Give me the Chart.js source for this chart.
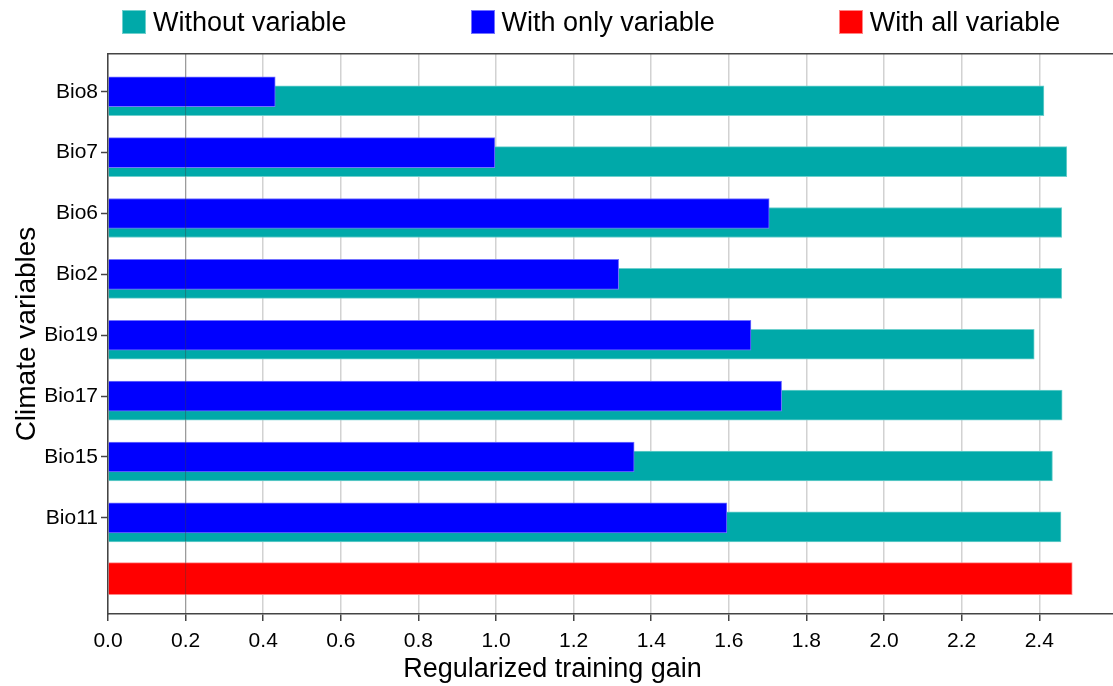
<!DOCTYPE html>
<html>
<head>
<meta charset="utf-8">
<script src="https://cdn.jsdelivr.net/npm/chart.js@4/dist/chart.umd.min.js"></script>
<style>
  html, body { margin: 0; padding: 0; background: #fff; }
  #chartBox { position: relative; width: 1113px; height: 686px; }
  #chartBox canvas { position: absolute; left: 0; top: 0; }
  #legend {
    position: absolute; top: 10px; left: 122px;
    display: flex; gap: 124px;
    font-family: 'Liberation Sans', Arial, sans-serif; font-size: 27px; color: #000;
  }
  #legend .item { display: flex; align-items: center; height: 24px; white-space: nowrap; }
  #legend .swatch { width: 24px; height: 24px; margin-right: 7px; box-sizing: border-box; }
</style>
</head>
<body>
<div id="chartBox">
  <canvas id="chart" width="1113" height="686"></canvas>
  <div id="legend"></div>
</div>
<script>
// Climate variables, top to bottom; the last band holds the all-variable run
const categories = ['Bio8', 'Bio7', 'Bio6', 'Bio2', 'Bio19', 'Bio17', 'Bio15', 'Bio11'];

// Regularized training gain per variable
const withoutVariable  = [2.412, 2.471, 2.458, 2.458, 2.387, 2.459, 2.434, 2.456];
const withOnlyVariable = [0.431, 0.997, 1.704, 1.316, 1.657, 1.736, 1.356, 1.595];
const withAllVariable  = [2.485];

const seriesNames = ['Without variable', 'With only variable', 'With all variable'];
const xTicks = [0, 0.2, 0.4, 0.6, 0.8, 1.0, 1.2, 1.4, 1.6, 1.8, 2.0, 2.2, 2.4];
const xTitle = 'Regularized training gain';
const yTitle = 'Climate variables';

// the "without" bar sits a little lower than the "only" bar in each band
const BAR_SHIFT = 0.148;
const FONT = "'Liberation Sans', Arial, sans-serif";
const AXIS_COLOR = '#444';

Chart.defaults.font.family = FONT;

// thin overlay line at the first gridline, drawn above the bars,
// plus the x-axis title centred on the canvas
const extras = {
  id: 'extras',
  afterDatasetsDraw(chart) {
    const { ctx, chartArea, scales } = chart;
    const px = scales.x.getPixelForValue(xTicks[1]);
    ctx.save();
    ctx.strokeStyle = 'rgba(60,60,60,0.4)';
    ctx.lineWidth = 1;
    ctx.beginPath();
    ctx.moveTo(px, chartArea.top);
    ctx.lineTo(px, chartArea.bottom);
    ctx.stroke();
    ctx.restore();
  },
  afterDraw(chart) {
    const { ctx } = chart;
    ctx.save();
    ctx.font = '27px ' + FONT;
    ctx.fillStyle = '#000';
    ctx.textAlign = 'center';
    ctx.textBaseline = 'middle';
    ctx.fillText(xTitle, chart.width / 2 - 4, 670);
    ctx.restore();
  }
};

const chart = new Chart(document.getElementById('chart'), {
  type: 'bar',
  data: {
    datasets: [
      {
        label: seriesNames[0],
        data: withoutVariable.map((v, i) => ({ x: v, y: i + BAR_SHIFT })),
        backgroundColor: '#00a9a9',
        borderColor: '#6fd0cd',
        borderWidth: 1,
        barThickness: 30,
        order: 2
      },
      {
        label: seriesNames[1],
        data: withOnlyVariable.map((v, i) => ({ x: v, y: i })),
        backgroundColor: '#0000ff',
        borderColor: '#7373ff',
        borderWidth: 1,
        barThickness: 30,
        order: 1
      },
      {
        label: seriesNames[2],
        data: withAllVariable.map(v => ({ x: v, y: categories.length })),
        backgroundColor: '#ff0000',
        borderColor: '#ff8585',
        borderWidth: 1,
        barThickness: 32,
        order: 0
      }
    ]
  },
  options: {
    indexAxis: 'y',
    responsive: false,
    animation: false,
    datasets: { bar: { grouped: false } },
    layout: { padding: { top: 54, right: 0, bottom: 0, left: 0 } },
    plugins: {
      legend: { display: false },
      tooltip: { enabled: false }
    },
    scales: {
      x: {
        type: 'linear',
        position: 'bottom',
        min: 0,
        max: 2.59,
        afterBuildTicks: s => { s.ticks = xTicks.map(v => ({ value: v })); },
        afterFit: s => { s.height = 72; },
        ticks: {
          callback: v => Number(v).toFixed(1),
          font: { size: 21 },
          color: '#000',
          padding: 8,
          maxRotation: 0
        },
        grid: {
          color: '#d2d2d2',
          lineWidth: 1.5,
          tickLength: 7,
          tickColor: AXIS_COLOR,
          tickWidth: 1.5
        },
        border: { color: AXIS_COLOR, width: 1.5 }
      },
      xTop: {
        type: 'linear',
        position: 'top',
        min: 0,
        max: 2.59,
        afterFit: s => { s.height = 0; },
        ticks: { display: false },
        grid: { display: false, drawTicks: false },
        border: { display: true, color: AXIS_COLOR, width: 1.5 }
      },
      y: {
        type: 'linear',
        reverse: true,
        offset: false,
        min: -0.62,
        max: categories.length + 0.58,
        afterBuildTicks: s => { s.ticks = categories.map((c, i) => ({ value: i })); },
        afterFit: s => { s.width = 108; },
        ticks: {
          callback: v => categories[v],
          font: { size: 21 },
          color: '#000',
          padding: 3,
          autoSkip: false
        },
        grid: {
          offset: false,
          drawOnChartArea: false,
          tickLength: 7,
          tickColor: AXIS_COLOR,
          tickWidth: 1.5
        },
        border: { color: AXIS_COLOR, width: 1.5 },
        title: {
          display: true,
          text: yTitle,
          font: { size: 28 },
          color: '#000',
          padding: { top: 10, bottom: 0 }
        }
      }
    }
  },
  plugins: [extras]
});

// legend built from the chart's own datasets
const legendEl = document.getElementById('legend');
chart.data.datasets.forEach(ds => {
  const item = document.createElement('div');
  item.className = 'item';
  const sw = document.createElement('span');
  sw.className = 'swatch';
  sw.style.background = ds.backgroundColor;
  sw.style.border = '1px solid ' + ds.borderColor;
  const tx = document.createElement('span');
  tx.textContent = ds.label;
  item.appendChild(sw);
  item.appendChild(tx);
  legendEl.appendChild(item);
});
</script>
</body>
</html>
